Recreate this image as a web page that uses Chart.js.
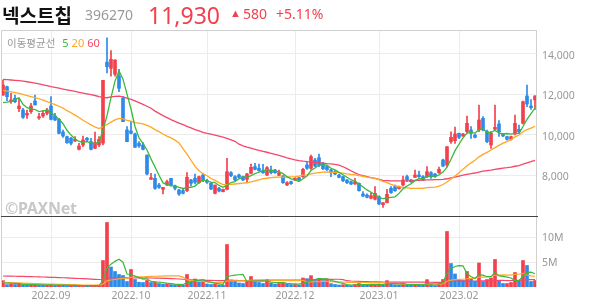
<!DOCTYPE html>
<html><head><meta charset="utf-8">
<script src="https://cdn.jsdelivr.net/npm/chart.js@4.4.0/dist/chart.umd.min.js"></script>
<style>
html,body{margin:0;padding:0;background:#fff;width:594px;height:304px;overflow:hidden;font-family:'Noto Sans','Noto Sans CJK KR',sans-serif}
#wrap{position:relative;width:594px;height:304px}
canvas{position:absolute;left:0;top:0}
.t{position:absolute;white-space:nowrap;line-height:1}
.d{font-family:'Noto Sans';font-size:11px}
</style></head><body>
<div id="wrap">
<canvas id="pc" width="594" height="304"></canvas>
<canvas id="vc" width="594" height="304"></canvas>
<div class="t" style="left:2px;top:1px;font:bold 19px 'Noto Sans CJK KR';color:#111">넥스트칩</div>
<div class="t" style="left:85px;top:5px;font:14px 'Noto Sans';color:#999">396270</div>
<div class="t" style="left:148px;top:-1px;font:23px 'Noto Sans';color:#f2414d">11,930</div>
<div class="t" style="left:230px;top:5px;font:11px 'Noto Sans';color:#f2414d">▲</div>
<div class="t" style="left:243px;top:4px;font:14px 'Noto Sans';color:#f2414d">580</div>
<div class="t" style="left:276px;top:4px;font:14px 'Noto Sans';color:#f2414d">+5.11%</div>
<div class="t" style="left:7px;top:35px;font:10.5px 'Noto Sans CJK KR';color:#999">이동평균선<span class="d" style="color:#3cb83c;margin-left:7px">5</span><span class="d" style="color:#ffa726;margin-left:3px">20</span><span class="d" style="color:#f4476b;margin-left:3px">60</span></div>
<div class="t" style="left:5px;top:197px;font:bold 16px 'Noto Sans';color:#c8c8c8;letter-spacing:-0.3px">©PAXNet</div>
</div>
<script>
// trading days per month
const aug22=[16,17,18,19,22,23,24,25,26,29,30,31];
const sep22=[1,2,5,6,7,8,13,14,15,16,19,20,21,22,23,26,27,28,29,30];
const oct22=[4,5,6,7,11,12,13,14,17,18,19,20,21,24,25,26,27,28,31];
const nov22=[1,2,3,4,7,8,9,10,11,14,15,16,17,18,21,22,23,24,25,28,29,30];
const dec22=[1,2,5,6,7,8,9,12,13,14,15,16,19,20,21,22,23,26,27,28,29];
const jan23=[2,3,4,5,6,9,10,11,12,13,16,17,18,19,20,25,26,27,30,31];
const feb23=[1,2,3,6,7,8,9,10,13,14,15,16,17,20,21,22,23,24,27,28];

const open=[11975,12387,11646,11811,11301,11235,10988,11152,11680,10840,10938,11070,11432,10938,10774,10148,9918,9836,9704,9292,9506,9836,9671,9342,9506,9600,13600,13292,13000,12914,11811,10247,10198,10050,9589,9506,9013,7811,7860,7531,7317,7531,7860,7482,7284,7251,7251,7778,7860,7646,8025,7745,7613,7119,7366,7201,7317,8140,7943,8025,7943,7811,8107,8436,8354,8239,8025,8272,8272,8008,7975,7531,7695,7778,7893,7943,8519,8354,8765,8880,8600,8440,8272,8190,8025,7943,7778,7695,7580,7613,7086,7037,6873,6824,6955,6560,6659,7366,7448,7350,7531,7943,7778,7910,8025,7943,7943,8140,8074,8140,8765,8519,9671,9720,10083,9951,10165,10247,10000,10247,10823,10165,9506,10280,10543,10050,9918,9786,10050,10280,10576,11926,11432,11730];
const high=[12716,12420,12058,11975,11811,11318,11235,11564,11975,11070,11202,11318,11893,11070,10823,10247,9951,9885,9918,9589,9951,9885,9836,10148,9918,12700,14800,14165,13720,13243,11893,10412,10659,10100,9671,9622,9013,8107,8074,7613,7416,7778,7860,7531,7317,7366,8140,7811,8074,7975,8107,7811,7646,7531,7416,7333,8848,8189,7992,8074,7975,8107,8568,8600,8568,8551,8436,8469,8305,8272,7992,7695,7729,7893,7910,8354,8683,9013,8848,9060,8650,8500,8305,8240,8060,7975,7800,7720,7860,7640,7201,7090,7152,7448,6990,6659,7317,7448,7531,7480,7975,8025,7810,8272,8222,7990,8436,8190,8107,8420,8810,9424,10150,10395,10100,10083,10938,10412,10050,11482,10906,10247,10165,11482,10708,10083,9950,9950,10988,10494,11680,12470,11745,11940];
const low=[11950,11696,11564,11597,11152,10823,10823,11070,11482,10774,10873,10988,10741,10708,10050,9885,9589,9506,9671,9260,9424,9671,9260,9325,9424,9506,13060,12900,12900,12140,10659,9671,10050,9391,9391,9260,8025,7811,7317,7366,7086,7498,7482,7284,7020,7086,7201,7482,7580,7613,7695,7613,7300,7086,7185,7185,7284,7943,7729,7860,7745,7646,8074,8272,8206,8107,7992,8074,8107,7992,7613,7498,7564,7745,7745,7910,8305,8305,8436,8436,8290,8250,7943,8040,7880,7700,7600,7550,7560,7230,6955,6890,6840,6791,6560,6428,6640,7119,7218,7320,7482,7695,7660,7900,7910,7750,7910,7860,7910,8100,8440,8420,9589,9589,9820,9930,10100,9836,9850,10165,10200,9622,9342,10247,9935,9920,9750,9750,10000,10083,10543,11400,11268,11268];
const close=[12469,11893,11728,11646,11432,10873,11070,11432,11482,10906,11070,11235,10774,10741,10083,9951,9622,9589,9786,9457,9753,9753,9292,9622,9786,12700,13375,13737,13700,12305,10659,9671,10083,9391,9457,9292,8074,7893,7366,7416,7416,7695,7531,7366,7086,7119,7910,7613,7663,7943,7778,7663,7333,7531,7234,7317,8189,7992,7778,7910,7778,8074,8403,8305,8239,8140,8387,8140,8140,8140,7646,7646,7597,7860,7778,8305,8354,8930,8469,8520,8330,8290,8173,8074,7910,7745,7646,7580,7695,7251,6988,6922,7004,7119,6593,6659,7070,7152,7251,7448,7778,7778,7695,8025,7943,7778,8190,7943,7943,8305,8469,9424,9885,10050,9885,10050,10576,10083,9885,10741,10247,9671,10083,10379,10165,9951,9786,9918,10576,10165,11646,11531,11350,11930];
// volume, millions of shares
const volumeM=[1.27,0.47,0.6,0.5,0.6,0.47,0.4,0.45,0.5,0.4,0.35,0.35,0.45,0.35,0.4,0.35,0.3,0.3,0.25,0.3,0.3,0.25,0.3,0.3,0.35,5.3,12.9,4.0,3.1,2.5,2.3,1.1,3.5,1.5,0.95,0.9,1.3,0.9,1.0,0.7,0.6,0.65,0.5,0.45,0.5,0.4,2.5,1.1,1.6,1.0,1.1,0.6,0.5,0.6,0.4,0.35,8.5,1.4,1.2,0.8,0.7,1.2,2.1,1.0,0.9,0.7,1.5,0.8,0.6,0.7,0.9,0.6,0.5,0.5,0.4,1.8,1.67,2.27,1.3,1.6,1.3,1.6,0.67,0.5,0.4,0.45,0.35,0.3,0.5,0.7,0.5,0.4,0.45,0.5,0.6,0.4,1.27,0.6,0.45,0.4,0.7,0.5,0.35,0.5,0.4,0.35,1.47,0.5,0.3,0.6,1.5,11.1,4.7,2.6,1.5,1.3,3.1,1.7,1.2,4.8,1.1,1.5,1.8,5.5,1.2,0.7,0.7,0.9,2.9,1.2,5.3,4.3,1.1,1.3];

const ma5Lead=[11600,11620,11660,11760];
const ma20Lead=[12200,12170,12130,12090,12050,12000,11950,11900,11850,11790,11720,11650,11580,11500,11420,11330,11200,11100,10980];
const ma60Lead=[12740,12730,12715,12700,12680,12655,12630,12600,12560,12520,12480,12440,12390,12350,12310,12270,12230,12190,12150,12110,12070,12030,11990,11950,11900,11860,11840,11880,11910,11920,11880,11820,11760,11680,11600,11510,11420,11320,11180,11070,10960,10860,10760,10670,10590,10510,10430,10350,10270,10200,10130,10080,10040,9990,9940,9890,9830,9760,9690];
const volMa5Lead=[0.8,0.78,0.75,0.72];
const volMa20Lead=[0.93,0.9,0.87,0.84,0.81,0.78,0.75,0.72,0.69,0.66,0.63,0.6,0.58,0.56,0.54,0.52,0.5,0.49,0.47];
const volMa60Lead=[2.2,2.19,2.17,2.15,2.13,2.11,2.09,2.07,2.05,2.02,2.0,1.97,1.94,1.91,1.88,1.85,1.82,1.78,1.74,1.7,1.66,1.62,1.58,1.54,1.5,1.55,1.75,1.8,1.82,1.83,1.84,1.83,1.85,1.84,1.83,1.82,1.81,1.8,1.78,1.76,1.74,1.71,1.68,1.65,1.6,1.55,1.5,1.45,1.42,1.39,1.36,1.34,1.32,1.3,1.28,1.27,1.35,1.34,1.33];

const priceTicks=[8000,10000,12000,14000];
const volumeTicks=[5,10];

const months=[['2022.08',aug22],['2022.09',sep22],['2022.10',oct22],['2022.11',nov22],['2022.12',dec22],['2023.01',jan23],['2023.02',feb23]];
const labels=[];
months.forEach(([m,days])=>days.forEach(d=>labels.push(m+'.'+String(d).padStart(2,'0'))));
const monthStarts=[];
labels.forEach((l,i)=>{ if(i>0 && l.slice(0,7)!==labels[i-1].slice(0,7)) monthStarts.push(i); });

function ma(arr,n,lead){ return arr.map((_,i)=>{ if(i<n-1) return lead[i]; let s=0; for(let k=i-n+1;k<=i;k++) s+=arr[k]; return s/n; }); }

const RED='#f2414d', BLUE='#2d8ae8', GREEN='#3cb83c', ORANGE='#ffa726', PINK='#f4476b';
const candleColors=close.map((c,i)=>c>=open[i]?RED:BLUE);
const volColors=volumeM.map((v,i)=>(i===0||v>=volumeM[i-1])?RED:BLUE);
const tickFont={family:"'Noto Sans', sans-serif",size:10.5};

const frame={id:'frame',afterDraw(chart,args,o){const {ctx,chartArea:a}=chart;ctx.save();ctx.lineWidth=1;
  const L=Math.round(a.left)+0.5,R=Math.round(a.right)-0.5,T=Math.round(a.top)+0.5,B=Math.round(a.bottom)-0.5;
  ctx.strokeStyle='#d0d0d0';ctx.beginPath();
  ctx.moveTo(L,o.top?T:a.top);ctx.lineTo(L,a.bottom);ctx.moveTo(R,a.top);ctx.lineTo(R,a.bottom);
  if(o.top){ctx.moveTo(L,T);ctx.lineTo(R,T);} ctx.stroke();
  if(o.bottomDark){ctx.strokeStyle='#444';ctx.beginPath();ctx.moveTo(a.left,B);ctx.lineTo(a.right+1,B);ctx.stroke();}
  ctx.restore();}};

function xScale(showLabels,h){return {type:'category',offset:true,
  grid:{color:'#ececec',offset:false,drawTicks:false},border:{display:false},
  afterBuildTicks(s){s.ticks=monthStarts.map(v=>({value:v}));},
  afterFit(s){s.height=h;},
  ticks:{display:showLabels,autoSkip:false,maxRotation:0,padding:3,color:'#999',font:tickFont,callback:(v)=>labels[v].slice(0,7)}};}

function lineDs(data,color,w){return {type:'line',data,borderColor:color,borderWidth:w,pointRadius:0,tension:0,order:0,fill:false};}

new Chart(document.getElementById('pc'),{type:'bar',
  data:{labels,datasets:[
    lineDs(ma(close,5,ma5Lead),GREEN,1.3),
    lineDs(ma(close,20,ma20Lead),ORANGE,1.3),
    lineDs(ma(close,60,ma60Lead),PINK,1.3),
    {data:open.map((o,i)=>[o,close[i]]),backgroundColor:candleColors,barThickness:3,grouped:false,order:1,minBarLength:1},
    {data:low.map((l,i)=>[l,high[i]]),backgroundColor:candleColors,barThickness:1,grouped:false,order:2}
  ]},
  options:{responsive:false,animation:false,devicePixelRatio:1,
    layout:{padding:{top:30,left:1,right:0,bottom:0}},
    plugins:{legend:{display:false},tooltip:{enabled:false},frame:{top:true,bottomDark:true}},
    scales:{x:xScale(false,87),
      y:{position:'right',min:5950,max:15185,grid:{color:'#ececec',drawTicks:false},border:{display:false},
        afterBuildTicks(s){s.ticks=priceTicks.map(v=>({value:v}));},afterFit(s){s.width=57;},
        ticks:{color:'#999',font:tickFont,padding:5,labelOffset:2,callback:v=>v.toLocaleString('en-US')}}}},
  plugins:[frame]});

new Chart(document.getElementById('vc'),{type:'bar',
  data:{labels,datasets:[
    lineDs(ma(volumeM,5,volMa5Lead),GREEN,1.2),
    lineDs(ma(volumeM,20,volMa20Lead),ORANGE,1.2),
    lineDs(ma(volumeM,60,volMa60Lead),PINK,1.2),
    {data:volumeM,backgroundColor:volColors,barThickness:3,grouped:false,order:1}
  ]},
  options:{responsive:false,animation:false,devicePixelRatio:1,
    layout:{padding:{top:217,left:1,right:0,bottom:0}},
    plugins:{legend:{display:false},tooltip:{enabled:false},frame:{top:false,bottomDark:false}},
    scales:{x:xScale(true,17),
      y:{position:'right',min:0,max:14,grid:{color:'#ececec',drawTicks:false},border:{display:false},
        afterBuildTicks(s){s.ticks=volumeTicks.map(v=>({value:v}));},afterFit(s){s.width=57;},
        ticks:{color:'#999',font:tickFont,padding:5,labelOffset:1,callback:v=>v+'M'}}}},
  plugins:[frame]});
</script>
</body></html>
